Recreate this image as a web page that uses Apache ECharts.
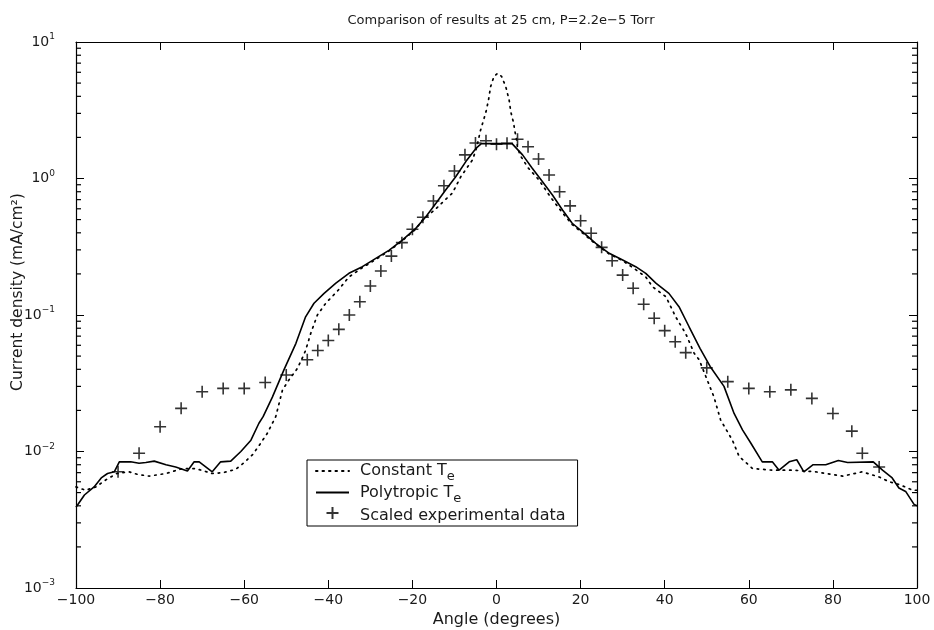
<!DOCTYPE html>
<html>
<head>
<meta charset="utf-8">
<title>Comparison of results</title>
<script src="https://cdn.jsdelivr.net/npm/echarts@6/dist/echarts.min.js"></script>
<style>
	html, body { margin: 0; padding: 0; background: #fff; }
	#chart { width: 934px; height: 630px; }
</style>
</head>
<body>
<div id="chart"></div>
<script>
// 曲线数据：角度(度) 和 电流密度(mA/cm2)
var polyAngle = [-100, -98, -95.7, -94, -92.5, -90.9, -89.7, -87, -85, -83.4, -81.4, -78.6, -76.3, -73.5, -71.9, -70.7, -67.6, -65.6, -63.2, -60.8, -58.4, -56.5, -55.5, -53.3, -50.5, -47.7, -45.4, -43.4, -41, -38.2, -35.1, -31.9, -28.7, -25.5, -22.4, -19.2, -16.8, -14.4, -12.1, -9.7, -7.3, -4.9, -3.6, 0, 3.7, 6.2, 8.5, 10.9, 13.3, 15.7, 18, 20.4, 23.6, 26.8, 30, 33.1, 35.5, 37.9, 41, 43.4, 45.8, 48.4, 50.8, 54.1, 56.5, 58.5, 60.5, 63.2, 65.6, 67.2, 69.6, 71.4, 73.1, 75.3, 78.3, 81.3, 83.5, 89.6, 91.8, 94.1, 95.7, 97.3, 99.3, 100];
var polyValue = [0.0039, 0.0048, 0.0055, 0.0064, 0.0069, 0.0071, 0.0084, 0.0084, 0.0082, 0.0083, 0.0085, 0.008, 0.0077, 0.0072, 0.0084, 0.0084, 0.0071, 0.0084, 0.0085, 0.01, 0.0121, 0.0161, 0.018, 0.025, 0.04, 0.062, 0.097, 0.122, 0.144, 0.171, 0.202, 0.226, 0.26, 0.299, 0.354, 0.431, 0.525, 0.658, 0.824, 1.03, 1.33, 1.66, 1.8, 1.8, 1.8, 1.49, 1.19, 0.95, 0.757, 0.588, 0.47, 0.408, 0.335, 0.283, 0.253, 0.226, 0.202, 0.171, 0.144, 0.115, 0.082, 0.057, 0.042, 0.03, 0.019, 0.0144, 0.0115, 0.0084, 0.0084, 0.0073, 0.0084, 0.0087, 0.0071, 0.008, 0.008, 0.0086, 0.0083, 0.0084, 0.0073, 0.0064, 0.0054, 0.0051, 0.0041, 0.004];

var constAngle = [-100, -97.7, -95.3, -92.9, -90.3, -87.4, -85.4, -82.6, -78.6, -74.7, -71.5, -67.6, -65, -62, -60.2, -58, -56.5, -54.5, -52.5, -50.9, -49.5, -47.5, -46.5, -45.4, -44.2, -42.6, -40.6, -37.8, -35.1, -31.9, -28.7, -25.5, -22.4, -19.2, -17.6, -14.4, -12.4, -10.5, -8.5, -5.7, -4.9, -4.3, -3.9, -3.2, -2.5, -1.9, -1.4, -0.6, 0.3, 1.2, 2.2, 3, 3.4, 4, 4.4, 4.8, 5, 5.8, 7.5, 10.1, 13, 15.7, 18, 20.4, 23.6, 26.8, 30, 33.1, 35.5, 37.1, 40.3, 42.6, 45, 47, 48.2, 49.8, 51.7, 53.3, 56.1, 57.7, 60.9, 65.6, 70.4, 75.9, 82.3, 87, 91, 93.4, 96, 99, 100];
var constValue = [0.0055, 0.0052, 0.0055, 0.0062, 0.0069, 0.0071, 0.0068, 0.0066, 0.0069, 0.0075, 0.0075, 0.0069, 0.007, 0.0074, 0.0082, 0.0095, 0.011, 0.0136, 0.018, 0.0282, 0.033, 0.04, 0.046, 0.055, 0.073, 0.1, 0.122, 0.15, 0.19, 0.222, 0.255, 0.295, 0.35, 0.425, 0.497, 0.6, 0.69, 0.78, 1.03, 1.37, 1.62, 1.91, 2.2, 2.6, 3.08, 3.76, 4.71, 5.6, 5.9, 5.6, 4.71, 3.76, 3.08, 2.6, 2.2, 1.91, 1.67, 1.45, 1.2, 0.975, 0.72, 0.56, 0.46, 0.4, 0.33, 0.28, 0.25, 0.215, 0.19, 0.161, 0.136, 0.097, 0.073, 0.0525, 0.047, 0.0353, 0.0252, 0.017, 0.0121, 0.0092, 0.0075, 0.0073, 0.0073, 0.0071, 0.0066, 0.0071, 0.0065, 0.006, 0.0057, 0.0052, 0.0052];

// 实验数据点
var expAngle = [-90, -85, -80, -75, -70, -65, -60, -55, -50, -45, -42.5, -40, -37.5, -35, -32.5, -30, -27.5, -25, -22.5, -20, -17.5, -15, -12.5, -10, -7.5, -5, -2.5, 0, 2.5, 5, 7.5, 10, 12.5, 15, 17.5, 20, 22.5, 25, 27.5, 30, 32.5, 35, 37.5, 40, 42.5, 45, 50, 55, 60, 65, 70, 75, 80, 84.5, 87, 91];
var expValue = [0.0071, 0.0097, 0.0152, 0.0207, 0.0274, 0.029, 0.029, 0.032, 0.0363, 0.047, 0.055, 0.065, 0.0785, 0.1, 0.125, 0.163, 0.21, 0.27, 0.339, 0.425, 0.52, 0.684, 0.885, 1.135, 1.49, 1.82, 1.89, 1.78, 1.81, 1.94, 1.71, 1.39, 1.06, 0.8, 0.63, 0.49, 0.397, 0.313, 0.25, 0.196, 0.157, 0.12, 0.0946, 0.0768, 0.0637, 0.053, 0.041, 0.0325, 0.029, 0.0274, 0.0283, 0.0245, 0.019, 0.0141, 0.0097, 0.0077];

// 坐标轴刻度
var xTicks = [-100, -80, -60, -40, -20, 0, 20, 40, 60, 80, 100];
var yMinorTicks = [0.002, 0.003, 0.004, 0.005, 0.006, 0.007, 0.008, 0.009, 0.02, 0.03, 0.04, 0.05, 0.06, 0.07, 0.08, 0.09, 0.2, 0.3, 0.4, 0.5, 0.6, 0.7, 0.8, 0.9, 2, 3, 4, 5, 6, 7, 8, 9];

function pairs(xs, ys){
	return xs.map(function(x, i){ return [x, ys[i]]; });
}

var font = '"DejaVu Sans", Verdana, sans-serif';
var textColor = '#1a1a1a';
var plusPath = 'path://M0,5 L10,5 M5,0 L5,10';

var myChart = echarts.init(document.getElementById('chart'), null, { renderer: 'canvas' });
var option = {
	backgroundColor: '#fff',
	animation: false,
	title: {
		text: 'Comparison of results at 25 cm, P=2.2e\u22125 Torr',
		left: 496,
		top: 9,
		textAlign: 'center',
		textStyle: { fontFamily: font, fontSize: 13, fontWeight: 'normal', color: textColor }
	},
	legend: {
		orient: 'vertical',
		left: 307,
		top: 460,
		padding: [3, 12, 2, 8],
		itemWidth: 33,
		itemHeight: 12,
		itemGap: 1,
		borderColor: '#000',
		borderWidth: 1,
		borderRadius: 0,
		backgroundColor: '#fff',
		data: [
			{ name: 'Constant', itemStyle: { opacity: 0 } },
			{ name: 'Polytropic', itemStyle: { opacity: 0 } },
			{ name: 'Scaled experimental data', icon: plusPath, textStyle: { padding: [6, 0, 0, 6] } }
		],
		formatter: function(name){
			if(name == 'Scaled experimental data') return name;
			return name + ' T{sub|e}';
		},
		textStyle: {
			fontFamily: font, fontSize: 16, color: textColor,
			padding: [0, 0, 0, 6],
			rich: {
				sub: { fontFamily: font, fontSize: 13, color: textColor, padding: [12, 0, 0, 0] }
			}
		}
	},
	grid: { left: 76, right: 17, top: 42, bottom: 42, outerBoundsMode: 'none', containLabel: false },
	xAxis: [{
		type: 'value',
		min: -100, max: 100, interval: 20,
		name: 'Angle (degrees)',
		nameLocation: 'middle',
		nameGap: 21,
		nameTextStyle: { fontFamily: font, fontSize: 16, color: textColor },
		axisLine: { onZero: false, lineStyle: { color: '#000', width: 1.2 } },
		axisTick: { inside: true, length: 8, lineStyle: { color: '#000' } },
		axisLabel: {
			fontFamily: font, fontSize: 14, color: textColor, margin: 5,
			customValues: xTicks,
			formatter: function(v){ return String(v).replace('-', '\u2212'); }
		},
		splitLine: { show: false }
	}, {
		type: 'value', position: 'top',
		min: -100, max: 100, interval: 20,
		axisLine: { show: true, onZero: false, lineStyle: { color: '#000', width: 1.2 } },
		axisTick: { inside: true, length: 8, lineStyle: { color: '#000' } },
		axisLabel: { show: false },
		splitLine: { show: false }
	}],
	yAxis: [{
		type: 'log',
		logBase: 10,
		min: 0.001, max: 10,
		name: 'Current density (mA/cm\u00b2)',
		nameLocation: 'middle',
		nameGap: 50,
		nameMoveOverlap: false,
		nameTextStyle: { fontFamily: font, fontSize: 15.5, color: textColor, padding: [0, 0, 0, 46] },
		axisLine: { show: true, onZero: false, lineStyle: { color: '#000', width: 1.2 } },
		axisTick: { inside: true, length: 8, lineStyle: { color: '#000' } },
		axisLabel: {
			fontFamily: font, fontSize: 14, color: textColor, margin: 21,
			formatter: function(v){
				var e = Math.round(Math.log(v) / Math.LN10);
				return '10{sup|' + (e < 0 ? '\u2212' + (-e) : e) + '}';
			},
			rich: {
				sup: { fontFamily: font, fontSize: 9, color: textColor, padding: [0, 0, 10, 0] }
			}
		},
		splitLine: { show: false }
	}, {
		type: 'log',
		logBase: 10,
		position: 'right',
		min: 0.001, max: 10,
		axisLine: { show: true, onZero: false, lineStyle: { color: '#000', width: 1.2 } },
		axisTick: { inside: true, length: 8, lineStyle: { color: '#000' } },
		axisLabel: { show: false },
		splitLine: { show: false }
	}],
	series: [{
		name: 'Constant',
		type: 'line',
		symbol: 'none',
		data: pairs(constAngle, constValue),
		itemStyle: { color: '#000' },
		lineStyle: { color: '#000', width: 1.7, type: [1.5, 5], cap: 'round' },
		z: 3
	}, {
		name: 'Polytropic',
		type: 'line',
		symbol: 'none',
		data: pairs(polyAngle, polyValue),
		itemStyle: { color: '#000' },
		lineStyle: { color: '#000', width: 1.6 },
		z: 4
	}, {
		name: 'Scaled experimental data',
		type: 'scatter',
		symbol: plusPath,
		symbolSize: 12,
		data: pairs(expAngle, expValue),
		itemStyle: { color: 'transparent', borderColor: '#000', borderWidth: 1.6 },
		z: 5
	}, {
		// y轴次刻度，左右两侧
		name: 'minorTicks',
		type: 'custom',
		silent: true,
		clip: false,
		data: yMinorTicks.map(function(v){ return [-100, v]; }),
		encode: { x: 0, y: 1 },
		renderItem: function(params, api){
			var v = api.value(1);
			var l = api.coord([-100, v]);
			var r = api.coord([100, v]);
			return {
				type: 'group',
				children: [{
					type: 'line',
					shape: { x1: l[0], y1: l[1], x2: l[0] + 5, y2: l[1] },
					style: { stroke: '#000', lineWidth: 1.2 }
				}, {
					type: 'line',
					shape: { x1: r[0], y1: r[1], x2: r[0] - 5, y2: r[1] },
					style: { stroke: '#000', lineWidth: 1.2 }
				}]
			};
		},
		z: 6
	}]
};
myChart.setOption(option);
</script>
</body>
</html>
